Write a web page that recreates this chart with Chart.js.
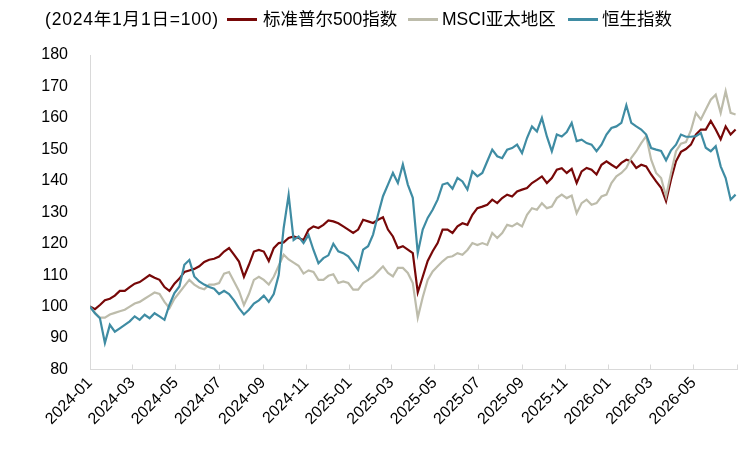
<!DOCTYPE html>
<html>
<head>
<meta charset="utf-8">
<script src="https://cdn.jsdelivr.net/npm/chart.js@4.4.1/dist/chart.umd.min.js"></script>
<style>
body { margin: 0; background: #fff; }
#wrap { position: relative; width: 749px; height: 449px; }
#legend { position: absolute; top: 0; left: 0; width: 749px; height: 40px;
  font-family: "Liberation Sans", "Noto Sans CJK SC", sans-serif; font-size: 17.5px; color: #000; }
#legend span { position: absolute; top: 9px; white-space: nowrap; line-height: 20px; }
#legend span.title { letter-spacing: 0.8px; }
#legend i { position: absolute; top: 18px; width: 30px; height: 3px; }
#chart { position: absolute; top: 0; left: 0; }
</style>
</head>
<body>
<div id="wrap">
  <canvas id="chart" width="749" height="449"></canvas>
  <div id="legend"></div>
</div>
<script>
// weekly readings, base 2024-01-01 = 100
const startDate = "2024-01-01";
const stepDays = 7;
const tickLabels = ["2024-01", "2024-03", "2024-05", "2024-07", "2024-09", "2024-11",
	"2025-01", "2025-03", "2025-05", "2025-07", "2025-09", "2025-11",
	"2026-01", "2026-03", "2026-05"];
const axisEnd = "2026-07";
const legendTitle = "(2024年1月1日=100)";
const seriesNames = ["标准普尔500指数", "MSCI亚太地区", "恒生指数"];
const seriesColors = ["#770808", "#bdbcab", "#3f8ca3"];

const spx = [
	100, 99.2, 100.5, 102, 102.5, 103.5, 105, 105, 106.2, 107.3,
	107.8, 108.9, 110, 109.2, 108.5, 106.2, 105, 107.3, 108.9, 111,
	111.5, 112, 112.8, 114.2, 114.9, 115.2, 115.9, 117.5, 118.6, 116.5,
	114.3, 109.5, 113.3, 117.5, 118, 117.5, 114.5, 118.6, 120.2, 120.4,
	121.8, 122.3, 121.8, 121.2, 124.4, 125.5, 125, 126, 127.4, 127.1,
	126.5, 125.5, 124.5, 123.4, 124.5, 127.6, 127.1, 126.6, 127.6, 128.4,
	124.5, 122.3, 118.6, 119.2, 118.1, 117, 104.5, 109.5, 114.5, 117.6,
	120.2, 124.5, 124.5, 123.4, 125.5, 126.5, 126, 129.2, 131.3, 131.8,
	132.4, 134, 132.9, 134.5, 135.6, 135, 136.6, 137.2, 137.7, 139.3,
	140.3, 141.4, 139.3, 140.9, 143.5, 144, 142.5, 143.8, 139.3, 143,
	144.1, 143.5, 142, 145.1, 146.2, 145.1, 144.1, 145.7, 146.7, 146.2,
	144.1, 145.1, 144.6, 142, 139.8, 137.8, 133.5, 140.4, 146.2, 149.2,
	150.1, 151.5, 154.7, 156.3, 156.3, 159, 156.3, 153.2, 157.3, 154.7,
	156.3
];
const msciAP = [
	100, 98, 96.5, 96.5, 97.5, 98, 98.5, 99, 100, 101,
	101.5, 102.5, 103.5, 104.5, 104, 101.5, 99.5, 102.5, 104.5, 106.5,
	108.5, 107, 106, 105.5, 107, 107, 107.5, 110.5, 111, 108,
	105, 100.5, 104, 108.5, 109.5, 108.5, 107, 109.5, 113, 116.5,
	115, 114, 113, 110.5, 111.5, 111, 108.5, 108.5, 109.8, 110.3,
	107.5, 108, 107.5, 105.4, 105.4, 107.5, 108.5, 109.6, 111.2, 112.8,
	110.7, 109.6, 112.3, 112.3, 110.7, 107.5, 96.5, 103, 108.5, 111.2,
	112.8, 114.4, 115.7, 116, 117, 116.5, 118, 120.2, 119.6, 120.2,
	119.6, 123.4, 121.8, 123.4, 126, 125.5, 126.5, 125.5, 129.2, 131.3,
	130.8, 132.9, 131.3, 131.8, 134.5, 135.6, 134.5, 135.3, 129.7, 132.9,
	134, 132.4, 132.9, 135, 135.6, 139.3, 141.4, 142.5, 144.1, 147.3,
	149.4, 152, 154.2, 146.7, 142.5, 140.9, 135, 142.5, 149.4, 151.8,
	152.3, 156, 161.6, 159.5, 162.7, 165.8, 167.4, 161.6, 168.5, 161.6,
	161.1
];
const hsi = [
	100, 97.9, 96.3, 88.4, 94.2, 92, 93.1, 94.2, 95.3, 96.9,
	95.8, 97.4, 96.3, 97.9, 96.9, 95.8, 100.6, 104.3, 106.4, 113.3,
	114.8, 109.6, 108, 107, 106.2, 105.7, 104, 105, 104, 102,
	99.5, 97.5, 99, 101, 102, 103.5, 101.5, 104, 110, 125,
	135.5, 121.2, 122.3, 120.2, 122.8, 118, 113.8, 115.4, 116.3, 120,
	117.6, 117, 116, 113.9, 111.7, 118.1, 119.2, 122.9, 129.2, 135.1,
	138.8, 142.5, 139.3, 145.2, 138.8, 134.6, 117, 124.5, 128.2, 130.8,
	134, 138.8, 139.3, 137.5, 140.9, 139.8, 137.2, 143, 141.4, 142.5,
	146.2, 149.9, 147.8, 147.2, 149.9, 150.4, 151.5, 148.8, 153.6, 157.3,
	155.7, 160, 154.1, 149.4, 154.7, 154.1, 155.5, 158.4, 152.6, 153.1,
	152, 151.5, 149.4, 151.5, 154.7, 156.8, 157.3, 158.4, 164, 158.4,
	157.3, 156.3, 154.7, 150.4, 149.9, 149.5, 146.5, 149.7, 151.5, 154.7,
	154, 154, 154.2, 155.2, 150.5, 149.4, 151, 144.6, 140.9, 134,
	135.6
];

const dayOf = (str) => {
	const [y, m, d] = str.split("-").map(Number);
	const [y0, m0, d0] = startDate.split("-").map(Number);
	return (Date.UTC(y, m - 1, d || 1) - Date.UTC(y0, m0 - 1, d0)) / 86400000;
};

const toPoints = (values) => values.map((v, i) => ({ x: i * stepDays, y: v }));

const buildLegend = () => {
	const legend = document.getElementById("legend");
	const pos = [{ line: 227, text: 263 }, { line: 408, text: 442 }, { line: 568, text: 602 }];
	let html = `<span class="title" style="left:45px">${legendTitle}</span>`;
	seriesNames.forEach((name, i) => {
		html += `<i style="left:${pos[i].line}px;background:${seriesColors[i]}"></i>`;
		html += `<span style="left:${pos[i].text}px">${name}</span>`;
	});
	legend.innerHTML = html;
};

window.onload = () => {
	buildLegend();
	const font = { family: "'Liberation Sans', 'Noto Sans CJK SC', sans-serif", size: 16 };
	const series = [spx, msciAP, hsi];
	const tickDays = tickLabels.concat(axisEnd).map((l) => dayOf(l));

	new Chart(document.getElementById("chart"), {
		type: "line",
		data: {
			datasets: series.map((values, i) => ({
				label: seriesNames[i],
				data: toPoints(values),
				borderColor: seriesColors[i],
				borderWidth: 2.2,
				pointRadius: 0,
				tension: 0,
				order: series.length - i,
			})),
		},
		options: {
			responsive: false,
			animation: false,
			layout: { padding: { top: 55, right: 12, left: 0, bottom: 0 } },
			plugins: { legend: { display: false }, tooltip: { enabled: false } },
			scales: {
				x: {
					type: "linear",
					min: 0,
					max: dayOf(axisEnd),
					afterBuildTicks: (scale) => {
						scale.ticks = tickDays.map((value) => ({ value }));
					},
					afterFit: (scale) => {
						scale.height = 79.5;
						scale.paddingRight = 0;
						scale.paddingLeft = 0;
					},
					ticks: {
						autoSkip: false,
						maxRotation: 45,
						minRotation: 45,
						padding: 9,
						color: "#000",
						font,
						callback: (value, index) => tickLabels[index] || "",
					},
					grid: { drawOnChartArea: false, drawTicks: true, tickLength: -5, color: "#d9d9d9" },
					border: { color: "#d9d9d9", width: 1 },
				},
				y: {
					min: 80,
					max: 180,
					afterFit: (scale) => { scale.width = 90; },
					ticks: { stepSize: 10, padding: 22, color: "#000", font },
					grid: { drawOnChartArea: false, drawTicks: false, color: "#d9d9d9" },
					border: { color: "#d9d9d9", width: 1 },
				},
			},
		},
	});
};
</script>
</body>
</html>
